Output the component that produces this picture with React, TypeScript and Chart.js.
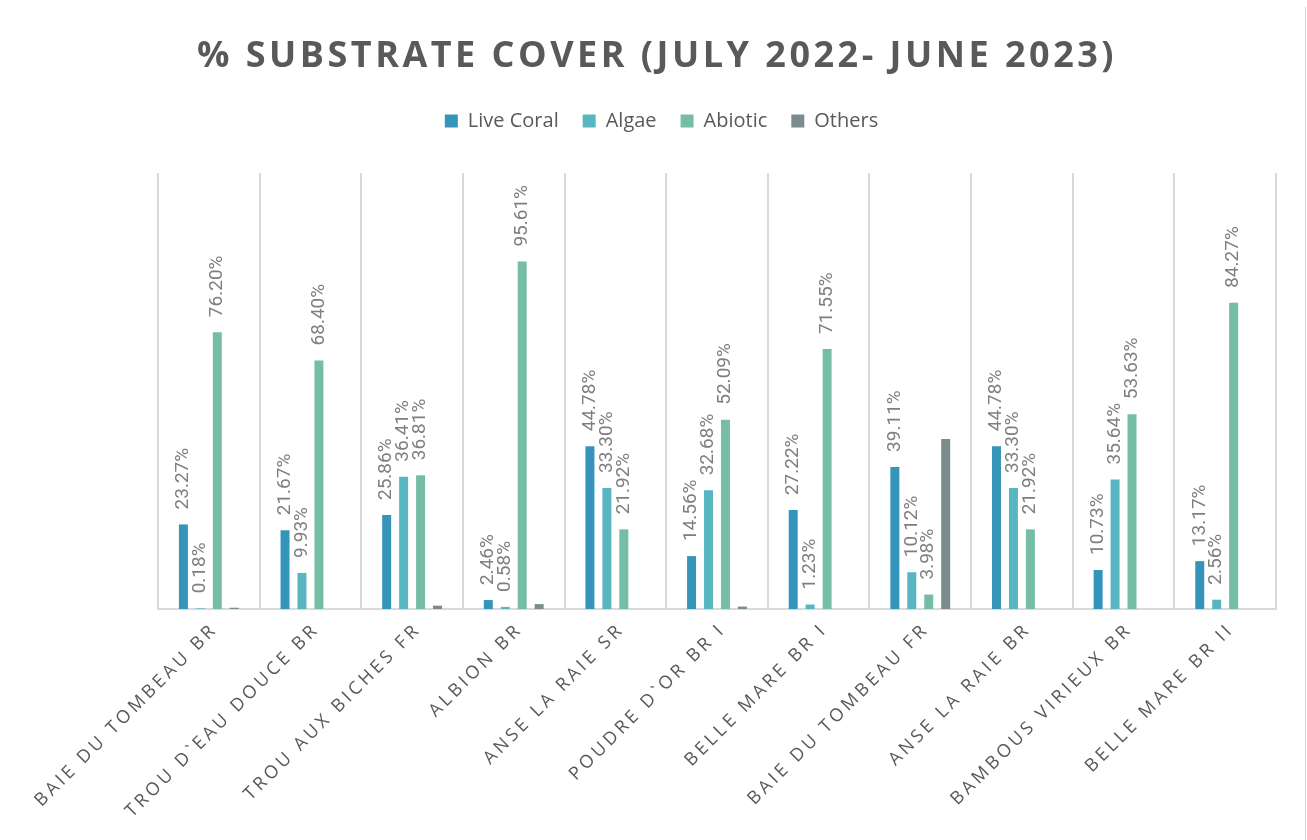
import React, { useEffect, useRef } from "react";
import { Chart, registerables, CategoryScale } from "chart.js";

Chart.register(...registerables);

class SpacedCategoryScale extends CategoryScale {
  static id = "spacedCategory";
  drawLabels(chartArea: any) {
    const ctx = this.ctx;
    ctx.save();
    (ctx as any).letterSpacing = "3.5px";
    ctx.translate(6, -6);
    super.drawLabels(chartArea);
    ctx.restore();
  }
}
Chart.register(SpacedCategoryScale);

const TITLE = "% SUBSTRATE COVER (JULY 2022- JUNE 2023)";

const sites = [
  "BAIE DU TOMBEAU BR",
  "TROU D`EAU DOUCE BR",
  "TROU AUX BICHES FR",
  "ALBION BR",
  "ANSE LA RAIE SR",
  "POUDRE D`OR BR I",
  "BELLE MARE BR I",
  "BAIE DU TOMBEAU FR",
  "ANSE LA RAIE BR",
  "BAMBOUS VIRIEUX BR",
  "BELLE MARE BR II",
];

const liveCoral = [23.27, 21.67, 25.86, 2.46, 44.78, 14.56, 27.22, 39.11, 44.78, 10.73, 13.17];
const algae = [0.18, 9.93, 36.41, 0.58, 33.3, 32.68, 1.23, 10.12, 33.3, 35.64, 2.56];
const abiotic = [76.2, 68.4, 36.81, 95.61, 21.92, 52.09, 71.55, 3.98, 21.92, 53.63, 84.27];
const others = [0.35, 0, 0.92, 1.35, 0, 0.67, 0, 46.79, 0, 0, 0];

const seriesNames = ["Live Coral", "Algae", "Abiotic", "Others"];
const seriesColors = ["#3494BA", "#58B6C0", "#75BDA7", "#7A8C8E"];
const labelledSeries = [true, true, true, false];

const titlePlugin = {
  id: "spacedTitle",
  afterDraw(chart: any) {
    const ctx = chart.ctx;
    ctx.save();
    ctx.font = 'bold 36px "Open Sans"';
    (ctx as any).letterSpacing = "3.5px";
    ctx.fillStyle = "#595959";
    ctx.textAlign = "center";
    ctx.textBaseline = "alphabetic";
    ctx.fillText(TITLE, 649, 60);
    ctx.restore();
  },
};

const barLabelPlugin = {
  id: "barLabels",
  afterDatasetsDraw(chart: any) {
    const ctx = chart.ctx;
    ctx.save();
    ctx.font = "19px Roboto";
    ctx.fillStyle = "#7f7f7f";
    ctx.textAlign = "left";
    ctx.textBaseline = "middle";
    chart.data.datasets.forEach((ds: any, di: number) => {
      if (!labelledSeries[di]) return;
      const meta = chart.getDatasetMeta(di);
      meta.data.forEach((el: any, i: number) => {
        const v = ds.data[i];
        ctx.save();
        ctx.translate(el.x, el.y - 15);
        ctx.rotate(-Math.PI / 2);
        ctx.fillText(v.toFixed(2) + "%", 0, 0);
        ctx.restore();
      });
    });
    ctx.restore();
  },
};

export default function App() {
  const canvasRef = useRef<HTMLCanvasElement | null>(null);

  useEffect(() => {
    document.body.style.margin = "0";
    document.body.style.background =
      "linear-gradient(180deg, #c6d7d7 0%, #dbe1e0 35%, #e6dddb 100%)";
    const canvas = canvasRef.current;
    if (!canvas) return;
    const seriesData = [liveCoral, algae, abiotic, others];
    const chart = new Chart(canvas, {
      type: "bar",
      data: {
        labels: sites,
        datasets: seriesNames.map((name, i) => ({
          label: name,
          data: seriesData[i],
          backgroundColor: seriesColors[i],
          borderWidth: 0,
          categoryPercentage: 0.667,
          barPercentage: 0.53,
        })),
      },
      options: {
        responsive: false,
        animation: false,
        devicePixelRatio: 1,
        layout: { padding: { top: 80, left: 39, right: 29, bottom: 0 } },
        plugins: {
          legend: {
            position: "top",
            labels: {
              font: { family: '"Open Sans"', size: 20 },
              color: "#595959",
              boxWidth: 13,
              boxHeight: 13,
              padding: 24,
            },
          },
          subtitle: {
            display: true,
            text: " ",
            position: "top",
            weight: 100,
            color: "rgba(0,0,0,0)",
            font: { size: 10 },
            padding: { top: 0, bottom: 20 },
          },
          title: { display: false },
          tooltip: { enabled: false },
        },
        scales: {
          x: {
            type: "spacedCategory" as any,
            offset: true,
            grid: {
              display: true,
              offset: true,
              color: "#d9d9d9",
              lineWidth: 2,
              drawTicks: false,
            },
            border: { display: true, color: "#d9d9d9", width: 2 },
            ticks: {
              autoSkip: false,
              minRotation: 45,
              maxRotation: 45,
              padding: 16,
              color: "#595959",
              font: { family: '"Open Sans"', size: 18 },
            },
            afterFit: (s: any) => {
              s.height = 231;
            },
          },
          y: {
            min: 0,
            max: 120,
            display: true,
            grid: { display: false },
            border: { display: false },
            ticks: { display: false },
            afterFit: (s: any) => {
              s.width = 111;
            },
          },
        },
      },
      plugins: [titlePlugin, barLabelPlugin],
    });
    return () => chart.destroy();
  }, []);

  return (
    <div
      style={{
        position: "absolute",
        left: 8,
        top: 7,
        width: 1298,
        height: 833,
        background: "#ffffff",
        borderRight: "1px solid #d4d4d4",
        boxSizing: "border-box",
      }}
    >
      <canvas ref={canvasRef} width={1297} height={833} style={{ display: "block" }} />
    </div>
  );
}
